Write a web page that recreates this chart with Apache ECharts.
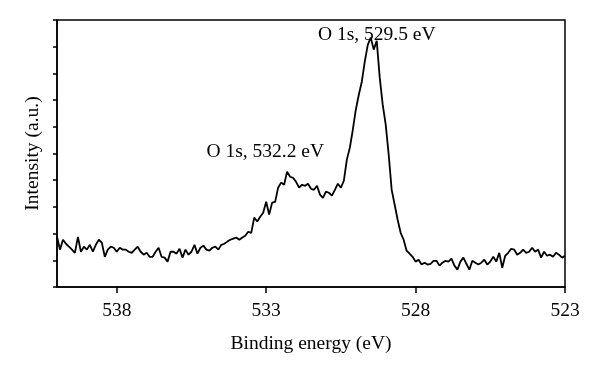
<!DOCTYPE html>
<html>
<head>
<meta charset="utf-8">
<title>O 1s XPS</title>
<script src="https://cdn.jsdelivr.net/npm/echarts@6/dist/echarts.min.js"></script>
<style>
  html, body { margin: 0; padding: 0; background: #fff; }
  #main { width: 600px; height: 377px; }
</style>
</head>
<body>
<div id="main"></div>
<script>
// binding energy grid (eV), 0.1 eV step, 540 -> 523
var energy = [
  540.0, 539.9, 539.8, 539.7, 539.6, 539.5, 539.4, 539.3, 539.2, 539.1,
  539.0, 538.9, 538.8, 538.7, 538.6, 538.5, 538.4, 538.3, 538.2, 538.1,
  538.0, 537.9, 537.8, 537.7, 537.6, 537.5, 537.4, 537.3, 537.2, 537.1,
  537.0, 536.9, 536.8, 536.7, 536.6, 536.5, 536.4, 536.3, 536.2, 536.1,
  536.0, 535.9, 535.8, 535.7, 535.6, 535.5, 535.4, 535.3, 535.2, 535.1,
  535.0, 534.9, 534.8, 534.7, 534.6, 534.5, 534.4, 534.3, 534.2, 534.1,
  534.0, 533.9, 533.8, 533.7, 533.6, 533.5, 533.4, 533.3, 533.2, 533.1,
  533.0, 532.9, 532.8, 532.7, 532.6, 532.5, 532.4, 532.3, 532.2, 532.1,
  532.0, 531.9, 531.8, 531.7, 531.6, 531.5, 531.4, 531.3, 531.2, 531.1,
  531.0, 530.9, 530.8, 530.7, 530.6, 530.5, 530.4, 530.3, 530.2, 530.1,
  530.0, 529.9, 529.8, 529.7, 529.6, 529.5, 529.4, 529.3, 529.2, 529.1,
  529.0, 528.9, 528.8, 528.7, 528.6, 528.5, 528.4, 528.3, 528.2, 528.1,
  528.0, 527.9, 527.8, 527.7, 527.6, 527.5, 527.4, 527.3, 527.2, 527.1,
  527.0, 526.9, 526.8, 526.7, 526.6, 526.5, 526.4, 526.3, 526.2, 526.1,
  526.0, 525.9, 525.8, 525.7, 525.6, 525.5, 525.4, 525.3, 525.2, 525.1,
  525.0, 524.9, 524.8, 524.7, 524.6, 524.5, 524.4, 524.3, 524.2, 524.1,
  524.0, 523.9, 523.8, 523.7, 523.6, 523.5, 523.4, 523.3, 523.2, 523.1,
  523.0
];

// intensity (a.u.)
var intensity = [
  1.88, 1.40, 1.77, 1.62, 1.51, 1.40, 1.28, 1.88, 1.32, 1.51,
  1.40, 1.58, 1.32, 1.58, 1.77, 1.66, 1.13, 1.40, 1.51, 1.47,
  1.32, 1.47, 1.40, 1.40, 1.32, 1.28, 1.40, 1.51, 1.32, 1.21,
  1.28, 1.13, 1.13, 1.32, 1.47, 1.13, 1.10, 0.95, 1.32, 1.32,
  1.25, 1.43, 1.10, 1.40, 1.21, 1.32, 1.58, 1.25, 1.47, 1.55,
  1.40, 1.36, 1.47, 1.51, 1.40, 1.58, 1.62, 1.70, 1.77, 1.81,
  1.85, 1.77, 1.85, 1.92, 2.07, 2.03, 2.60, 2.45, 2.63, 2.78,
  3.19, 2.71, 3.16, 3.19, 3.72, 3.91, 3.83, 4.32, 4.13, 4.09,
  3.94, 3.72, 3.83, 3.79, 3.87, 3.68, 3.64, 3.79, 3.46, 3.34,
  3.57, 3.53, 3.42, 3.64, 3.87, 3.72, 3.98, 4.77, 5.22, 5.89,
  6.64, 7.20, 7.69, 8.44, 9.07, 9.34, 8.89, 9.22, 7.84, 6.83,
  6.08, 4.96, 3.64, 3.08, 2.52, 2.03, 1.77, 1.36, 1.25, 1.13,
  0.95, 1.02, 0.84, 0.91, 0.84, 0.87, 0.98, 0.98, 0.80, 0.91,
  0.98, 0.95, 1.06, 0.80, 0.65, 0.95, 1.10, 0.87, 0.65, 0.98,
  0.91, 0.84, 0.91, 1.02, 0.84, 0.95, 1.13, 0.95, 1.28, 0.72,
  1.17, 1.28, 1.43, 1.40, 1.21, 1.28, 1.40, 1.28, 1.32, 1.47,
  1.32, 1.40, 1.10, 1.32, 1.17, 1.21, 1.13, 1.28, 1.21, 1.10,
  1.17
];

var xTicks = [523, 528, 533, 538];
var peakLabels = ['O 1s, 529.5 eV', 'O 1s, 532.2 eV'];

var seriesData = energy.map(function (e, i) { return [e, intensity[i]]; });

var fontFam = '"Liberation Serif", "DejaVu Serif", serif';

var chart = echarts.init(document.getElementById('main'));
var option = {
    animation: false,
    backgroundColor: '#fff',
    grid: {
        left: 57, right: 35, top: 20, bottom: 90,
        show: true, borderColor: '#000', borderWidth: 1.5
    },
    xAxis: {
        type: 'value',
        inverse: true,
        min: 523,
        max: 540,
        name: 'Binding energy (eV)',
        nameLocation: 'middle',
        nameGap: 47,
        nameTextStyle: {fontFamily: fontFam, fontSize: 19.5, color: '#000'},
        splitLine: {show: false},
        axisLine: {lineStyle: {color: '#000', width: 1.5}},
        axisTick: {customValues: xTicks, length: 6, lineStyle: {color: '#000', width: 1.5}},
        axisLabel: {customValues: xTicks, margin: 14, fontFamily: fontFam, fontSize: 19.5, color: '#000'}
    },
    yAxis: {
        type: 'value',
        min: 0,
        max: 10,
        interval: 1,
        name: 'Intensity (a.u.)',
        nameLocation: 'middle',
        nameGap: 14,
        nameTextStyle: {fontFamily: fontFam, fontSize: 19.5, color: '#000'},
        splitLine: {show: false},
        axisLine: {show: true, lineStyle: {color: '#000', width: 1.5}},
        axisTick: {show: true, length: 4, lineStyle: {color: '#000', width: 1.5}},
        axisLabel: {show: false}
    },
    series: [{
        type: 'line',
        data: seriesData,
        showSymbol: false,
        lineStyle: {color: '#000', width: 1.8},
        markPoint: {
            symbol: 'circle',
            symbolSize: 0,
            label: {
                show: true,
                position: 'inside',
                fontFamily: fontFam,
                fontSize: 19.5,
                color: '#000'
            },
            data: [
                {coord: [529.3, 9.45], value: peakLabels[0], label: {formatter: peakLabels[0]}},
                {coord: [533.03, 5.05], value: peakLabels[1], label: {formatter: peakLabels[1]}}
            ]
        }
    }]
};
chart.setOption(option, !0);
</script>
</body>
</html>
